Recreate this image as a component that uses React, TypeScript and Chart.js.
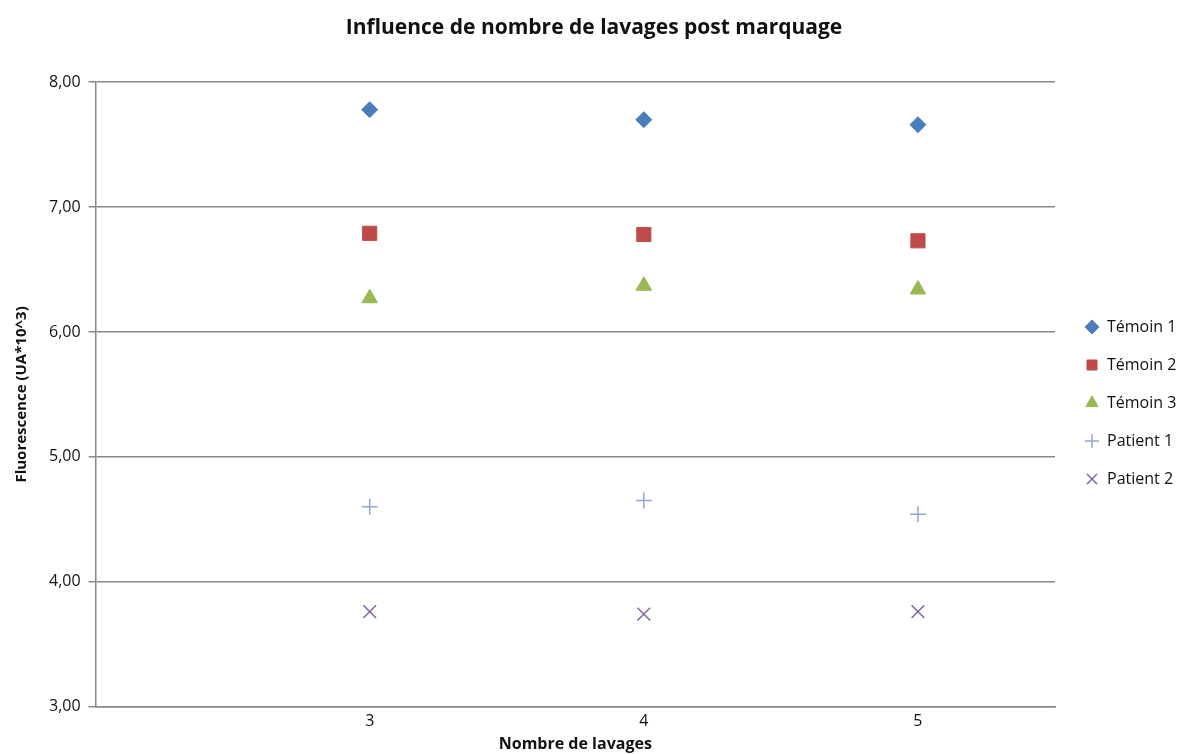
import React, { useEffect, useRef } from "react";
import { Chart, registerables } from "chart.js";

Chart.register(...registerables);

const xValues = [3, 4, 5];
const temoin1 = [7.78, 7.7, 7.66];
const temoin2 = [6.79, 6.78, 6.73];
const temoin3 = [6.27, 6.37, 6.34];
const patient1 = [4.6, 4.65, 4.54];
const patient2 = [3.76, 3.74, 3.76];
const seriesNames = ["Témoin 1", "Témoin 2", "Témoin 3", "Patient 1", "Patient 2"];

const FONT = "'Open Sans', sans-serif";

export default function App() {
  const ref = useRef<HTMLCanvasElement | null>(null);
  useEffect(() => {
    if (!ref.current) return;
    const pts = (vals: number[]) => vals.map((v, i) => ({ x: xValues[i], y: v }));
    const legendPlugin = {
      id: "legendTweak",
      afterInit(chart: any) {
        const lg = chart.legend;
        if (!lg) return;
        const origFit = lg.fit.bind(lg);
        lg.fit = function () {
          origFit();
          this.width = 138;
        };
      },
      afterLayout(chart: any) {
        const lg = chart.legend;
        if (lg) {
          lg.left += 8;
          lg.right += 8;
          lg.top += 22;
          lg.bottom += 22;
        }
        const t = chart.titleBlock;
        if (t) {
          t.left -= 9;
          t.right -= 9;
        }
      },
    };
    const chart = new Chart(ref.current, {
      type: "scatter",
      data: {
        datasets: [
          { label: seriesNames[0], data: pts(temoin1), pointStyle: "rectRot", pointRadius: 8, backgroundColor: "#4A7EBB", borderColor: "#4A7EBB", borderWidth: 1 },
          { label: seriesNames[1], data: pts(temoin2), pointStyle: "rect", pointRadius: 10, backgroundColor: "#BE4B48", borderColor: "#BE4B48", borderWidth: 1 },
          { label: seriesNames[2], data: pts(temoin3), pointStyle: "triangle", pointRadius: 9, backgroundColor: "#98B954", borderColor: "#98B954", borderWidth: 1 },
          { label: seriesNames[3], data: pts(patient1), pointStyle: "cross", pointRadius: 8, backgroundColor: "#8EA6D6", borderColor: "#8EA6D6", borderWidth: 1.5 },
          { label: seriesNames[4], data: pts(patient2), pointStyle: "crossRot", pointRadius: 9, backgroundColor: "#8064A2", borderColor: "#8064A2", borderWidth: 1.5 },
        ],
      },
      options: {
        animation: false,
        responsive: true,
        maintainAspectRatio: false,
        layout: { padding: { top: 8, right: 0, bottom: 0, left: 13 } },
        plugins: {
          title: {
            display: true,
            text: "Influence de nombre de lavages post marquage",
            font: { family: FONT, size: 21, weight: "bold" },
            color: "#111",
            padding: { top: 7, bottom: 42 },
          },
          legend: {
            position: "right",
            align: "center",
            labels: {
              usePointStyle: true,
              boxWidth: 14,
              boxHeight: 10,
              padding: 22,
              font: { family: FONT, size: 16 },
              color: "#111",
            },
          },
          tooltip: { enabled: false },
        },
        scales: {
          x: {
            type: "linear",
            min: 2,
            max: 5.5,
            ticks: {
              stepSize: 1,
              callback: (v: any) => (v >= 3 && Number.isInteger(v) ? String(v) : ""),
              font: { family: FONT, size: 16 },
              color: "#111",
              padding: 5,
            },
            grid: { display: false, drawTicks: false },
            border: { display: true, color: "#888", width: 1.5 },
            title: {
              display: true,
              text: "Nombre de lavages",
              font: { family: FONT, size: 16, weight: "bold" },
              color: "#111",
              padding: { top: -1, bottom: 0 },
            },
          },
          y: {
            min: 3,
            max: 8,
            ticks: {
              stepSize: 1,
              callback: (v: any) => Number(v).toFixed(2).replace(".", ","),
              font: { family: FONT, size: 16 },
              color: "#111",
              padding: 8,
            },
            grid: { color: "#888", lineWidth: 1.5, tickLength: 7 },
            border: { display: true, color: "#888", width: 1.5 },
            title: {
              display: true,
              text: "Fluorescence (UA*10^3)",
              font: { family: FONT, size: 15, weight: "bold" },
              color: "#111",
              padding: { top: 0, bottom: 10 },
            },
          },
        },
      },
      plugins: [legendPlugin],
    } as any);
    return () => chart.destroy();
  }, []);
  return (
    <div style={{ position: "fixed", left: 0, top: 0, width: 1193, height: 754, background: "#fff" }}>
      <canvas ref={ref} />
    </div>
  );
}
